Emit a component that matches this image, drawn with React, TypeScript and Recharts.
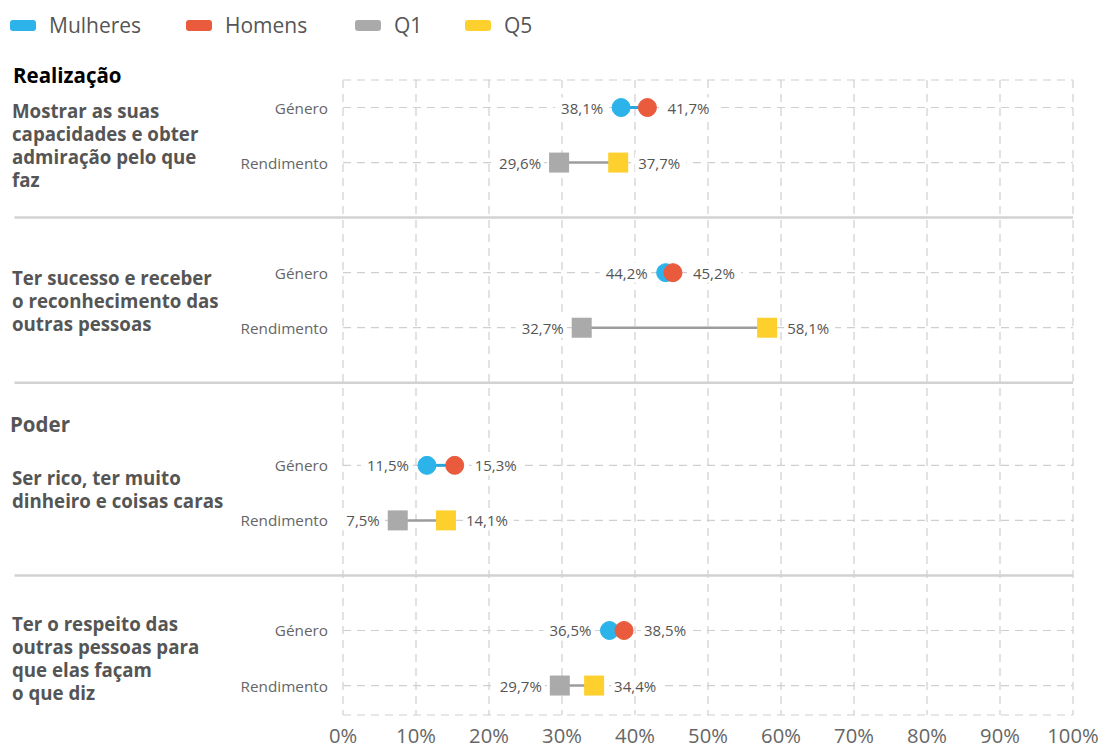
import React from "react";
import {
  ComposedChart,
  Scatter,
  XAxis,
  YAxis,
  CartesianGrid,
  ReferenceLine,
  Legend,
} from "recharts";

// ---------- data ----------
const sections: (string | null)[] = ["Realização", null, "Poder", null];
const groupLabels: string[][] = [
  ["Mostrar as suas", "capacidades e obter", "admiração pelo que", "faz"],
  ["Ter sucesso e receber", "o reconhecimento das", "outras pessoas"],
  ["Ser rico, ter muito", "dinheiro e coisas caras"],
  ["Ter o respeito das", "outras pessoas para", "que elas façam", "o que diz"],
];
const rowLabels = ["Género", "Rendimento"];
const mulheres = [38.1, 44.2, 11.5, 36.5];
const homens = [41.7, 45.2, 15.3, 38.5];
const q1 = [29.6, 32.7, 7.5, 29.7];
const q5 = [37.7, 58.1, 14.1, 34.4];
const xTicks = [0, 10, 20, 30, 40, 50, 60, 70, 80, 90, 100];
const legendItems = [
  { name: "Mulheres", color: "#2bb3ea" },
  { name: "Homens", color: "#ea5a3c" },
  { name: "Q1", color: "#aaaaaa" },
  { name: "Q5", color: "#fdd02e" },
];

// ---------- layout ----------
const W = 1104;
const H = 749;
const PLOT_TOP = 80;
const PLOT_BOTTOM = 715;
const PLOT_RIGHT = 1073;
const PLOT_LEFT = 343;
const Y_MAX = 23.07;
const PX_PER_UNIT = (PLOT_BOTTOM - PLOT_TOP) / Y_MAX;
const generoY = [1, 7, 14, 20];
const rendY = generoY.map((v) => v + 2);
const separatorY = [5, 11, 18];
const groupLabelOffset = [10, 0, -4, 0];
const sectionOffset = [-33, 0, -41, 0];
const LEGEND_H = 40;
const FONT = "'Open Sans', 'Noto Sans', sans-serif";

const fmt = (v: number) => v.toFixed(1).replace(".", ",") + "%";

const C_BLUE = "#2bb3ea";
const C_RED = "#ea5a3c";
const C_GRAY = "#aaaaaa";
const C_YELLOW = "#fdd02e";

const genPts = (vals: number[], other: number[], ys: number[]) =>
  vals.map((v, i) => ({ x: v, y: ys[i], side: v <= other[i] ? "left" : "right" }));

const mulheresData = genPts(mulheres, homens, generoY);
const homensData = genPts(homens, mulheres, generoY);
const q1Data = genPts(q1, q5, rendY);
const q5Data = genPts(q5, q1, rendY);

const ValueLabel = ({ cx, cy, value, side }: any) => {
  const txt = fmt(value);
  const w = txt.length * 9 + 6;
  const isLeft = side === "left";
  const tx = isLeft ? cx - 18 : cx + 20;
  const rx = isLeft ? tx - w + 3 : tx - 3;
  return (
    <g>
      <rect x={rx} y={cy - 10} width={w} height={20} fill="#ffffff" />
      <text
        x={tx}
        y={cy}
        textAnchor={isLeft ? "end" : "start"}
        dominantBaseline="central"
        fontFamily={FONT}
        fontSize={15}
        fill="#555"
      >
        {txt}
      </text>
    </g>
  );
};

const circleShape = (color: string) => (props: any) => {
  const { cx, cy, payload } = props;
  return (
    <g>
      <ValueLabel cx={cx} cy={cy} value={payload.x} side={payload.side} />
      <circle cx={cx} cy={cy} r={9} fill={color} stroke={color} strokeWidth={1} />
    </g>
  );
};

const squareShape = (color: string) => (props: any) => {
  const { cx, cy, payload } = props;
  return (
    <g>
      <ValueLabel cx={cx} cy={cy} value={payload.x} side={payload.side} />
      <rect x={cx - 10} y={cy - 10} width={20} height={20} fill={color} />
    </g>
  );
};

const emptyShape = () => <g />;

const YTick = (props: any) => {
  const { y, index } = props;
  const g = Math.floor(index / 2);
  const isGenero = index % 2 === 0;
  const lines = groupLabels[g];
  const center = y + PX_PER_UNIT + groupLabelOffset[g];
  return (
    <g>
      <text
        x={PLOT_LEFT - 15}
        y={y}
        textAnchor="end"
        dominantBaseline="central"
        fontFamily={FONT}
        fontSize={15.3}
        fill="#666"
      >
        {rowLabels[index % 2]}
      </text>
      {isGenero &&
        lines.map((ln, i) => (
          <text
            key={i}
            x={12}
            y={center + (i - (lines.length - 1) / 2) * 23}
            dominantBaseline="central"
            fontFamily={FONT}
            fontSize={18.7}
            fontWeight={700}
            fill="#555"
          >
            {ln}
          </text>
        ))}
      {isGenero && sections[g] && (
        <text
          x={g === 0 ? 13 : 10}
          y={y + sectionOffset[g]}
          dominantBaseline="central"
          fontFamily={FONT}
          fontSize={20.5}
          fontWeight={700}
          fill={g === 0 ? "#000" : "#555"}
        >
          {sections[g]}
        </text>
      )}
    </g>
  );
};

const XTick = (props: any) => {
  const { x, payload } = props;
  return (
    <text
      x={x}
      y={735}
      textAnchor="middle"
      dominantBaseline="central"
      fontFamily={FONT}
      fontSize={20.2}
      fill="#666"
    >
      {payload.value}%
    </text>
  );
};

const LegendContent = () => (
  <div style={{ position: "relative", height: LEGEND_H, width: W }}>
    {legendItems.map((it, i) => {
      const lefts = [10, 186, 355, 465];
      return (
        <div
          key={it.name}
          style={{
            position: "absolute",
            left: lefts[i],
            top: 11,
            display: "flex",
            alignItems: "center",
            fontFamily: FONT,
            fontSize: 21,
            color: "#555",
            lineHeight: "28px",
          }}
        >
          <span
            style={{
              display: "inline-block",
              width: 26,
              height: 11,
              borderRadius: 3,
              background: it.color,
              marginRight: 13,
            }}
          />
          {it.name}
        </div>
      );
    })}
  </div>
);

export default function App() {
  const connectors = [
    ...mulheres.map((v, i) => ({
      key: `g${i}`,
      data: [
        { x: v, y: generoY[i] },
        { x: homens[i], y: generoY[i] },
      ],
      color: "#2aa6dc",
      width: 3,
    })),
    ...q1.map((v, i) => ({
      key: `r${i}`,
      data: [
        { x: v, y: rendY[i] },
        { x: q5[i], y: rendY[i] },
      ],
      color: "#9c9c9c",
      width: 2.5,
    })),
  ];
  const allTicks = [...generoY, ...rendY].sort((a, b) => a - b);
  return (
    <div style={{ position: "absolute", left: 0, top: 0, width: W, height: H, background: "#fff" }}>
      <ComposedChart
        width={W}
        height={H}
        margin={{ top: PLOT_TOP - LEGEND_H, right: W - PLOT_RIGHT, bottom: 0, left: 0 }}
      >
        <CartesianGrid stroke="#cfcfcf" strokeDasharray="8 6" strokeWidth={1.2} />
        <XAxis
          type="number"
          dataKey="x"
          domain={[0, 100]}
          ticks={xTicks}
          axisLine={false}
          tickLine={false}
          height={H - PLOT_BOTTOM}
          tick={<XTick />}
          interval={0}
        />
        <YAxis
          type="number"
          dataKey="y"
          domain={[0, Y_MAX]}
          reversed
          ticks={allTicks}
          axisLine={false}
          tickLine={false}
          width={PLOT_LEFT}
          tick={<YTick />}
          interval={0}
        />
        <Legend
          verticalAlign="top"
          align="left"
          height={LEGEND_H}
          content={<LegendContent />}
          wrapperStyle={{ top: 0, left: 0 }}
        />
        {separatorY.map((s) => (
          <ReferenceLine
            key={s}
            segment={[
              { x: -45, y: s },
              { x: 100, y: s },
            ]}
            stroke="#d2d2d2"
            strokeWidth={2.5}
            ifOverflow="visible"
          />
        ))}
        {connectors.map((c) => (
          <Scatter
            key={c.key}
            data={c.data}
            line={{ stroke: c.color, strokeWidth: c.width }}
            shape={emptyShape}
            legendType="none"
            isAnimationActive={false}
          />
        ))}
        <Scatter name="Mulheres" data={mulheresData} shape={circleShape(C_BLUE)} isAnimationActive={false} />
        <Scatter name="Homens" data={homensData} shape={circleShape(C_RED)} isAnimationActive={false} />
        <Scatter name="Q1" data={q1Data} shape={squareShape(C_GRAY)} isAnimationActive={false} />
        <Scatter name="Q5" data={q5Data} shape={squareShape(C_YELLOW)} isAnimationActive={false} />
      </ComposedChart>
    </div>
  );
}
